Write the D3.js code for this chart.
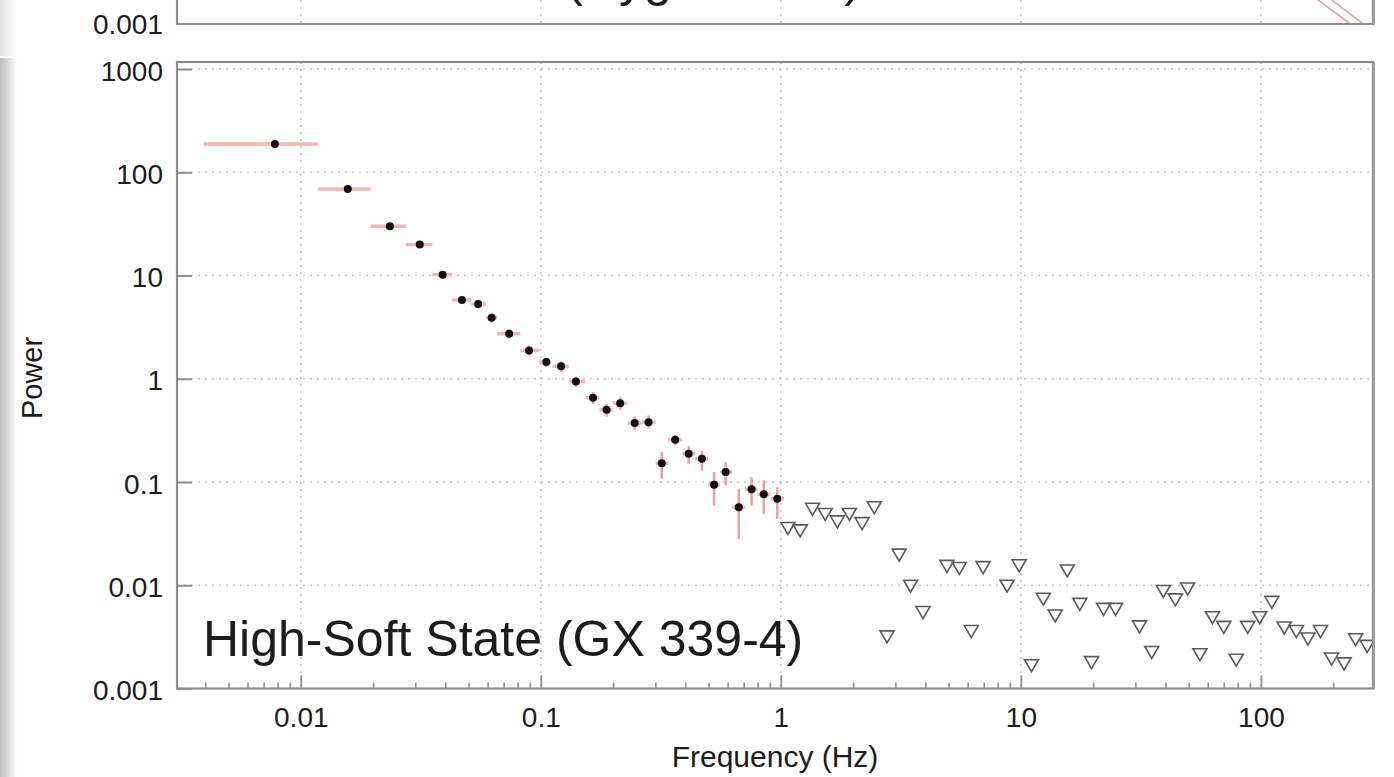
<!DOCTYPE html>
<html>
<head>
<meta charset="utf-8">
<script src="https://cdn.jsdelivr.net/npm/d3@7"></script>
<style>
body { margin: 0; background: #fff; }
svg text { font-family: "Liberation Sans", Arial, Helvetica, sans-serif; fill: #1c1c1c; }
</style>
</head>
<body>
<div class="chart"></div>
<script>
// detected points (bin centre, power) with bin edges and 1-sigma range
var freq = [0.0078, 0.0157, 0.0235, 0.0313, 0.039, 0.0469, 0.0548, 0.0624, 0.0738, 0.0893,
  0.1054, 0.1215, 0.140, 0.165, 0.188, 0.214, 0.246, 0.281, 0.319, 0.363,
  0.413, 0.469, 0.527, 0.589, 0.668, 0.755, 0.849, 0.966];
var power = [188, 69, 30, 20, 10.2, 5.8, 5.3, 3.9, 2.73, 1.88,
  1.45, 1.32, 0.94, 0.655, 0.50, 0.58, 0.372, 0.38, 0.152, 0.257,
  0.188, 0.168, 0.094, 0.125, 0.057, 0.085, 0.076, 0.069];
var freqLo = [0.00394, 0.01178, 0.01954, 0.02736, 0.0353, 0.0427, 0.0513, 0.0592, 0.0658, 0.0821,
  0.0986, 0.112, 0.131, 0.1535, 0.1755, 0.199, 0.2297, 0.263, 0.301, 0.34,
  0.388, 0.44, 0.498, 0.558, 0.628, 0.71, 0.80, 0.905];
var freqHi = [0.01178, 0.01954, 0.02736, 0.0353, 0.0427, 0.0513, 0.0592, 0.0658, 0.0821, 0.0986,
  0.1106, 0.131, 0.1535, 0.1755, 0.199, 0.2297, 0.263, 0.301, 0.34, 0.388,
  0.44, 0.498, 0.558, 0.628, 0.71, 0.80, 0.905, 1.03];
var powerLo = [178, 65, 28, 18.5, 9.4, 5.3, 4.8, 3.5, 2.45, 1.68,
  1.3, 1.17, 0.83, 0.57, 0.43, 0.5, 0.32, 0.33, 0.108, 0.227,
  0.15, 0.129, 0.059, 0.093, 0.028, 0.059, 0.049, 0.044];
var powerHi = [198, 73, 32, 21.5, 11, 6.3, 5.8, 4.3, 3.0, 2.1,
  1.6, 1.47, 1.05, 0.74, 0.57, 0.66, 0.43, 0.44, 0.195, 0.287,
  0.223, 0.2, 0.125, 0.156, 0.086, 0.112, 0.104, 0.089];

// upper limits (open triangles)
var limFreq = [1.07, 1.204, 1.355, 1.53, 1.72, 1.93, 2.18, 2.45, 2.77, 3.11,
  3.47, 3.91, 4.92, 5.54, 6.21, 6.96, 8.76, 9.83, 11.07, 12.4,
  13.9, 15.6, 17.6, 19.7, 22.1, 24.8, 31.2, 35.1, 39.2, 44,
  49.5, 55.7, 62.8, 70, 78.9, 88.1, 98.8, 111, 125, 140.5,
  157, 177, 197, 222, 248, 277];
var limPower = [0.0359, 0.034, 0.055, 0.049, 0.0416, 0.049, 0.040, 0.057, 0.0032, 0.0198,
  0.0099, 0.0055, 0.0154, 0.0147, 0.0036, 0.015, 0.0099, 0.0156, 0.00168, 0.0074,
  0.0051, 0.0139, 0.0066, 0.0018, 0.0059, 0.0059, 0.0040, 0.00226, 0.0088, 0.0073,
  0.0093, 0.00215, 0.0049, 0.00395, 0.0019, 0.00395, 0.0049, 0.0069, 0.0039, 0.0036,
  0.00305, 0.0036, 0.00195, 0.00175, 0.0030, 0.00259];

// model lines peeking out of the upper panel
var topLineA = [[150, 0.00219], [235.5, 0.001]];
var topLineB = [[170, 0.00223], [266.6, 0.001]];

var xTickValues = [0.01, 0.1, 1, 10, 100];
var xTickLabels = ["0.01", "0.1", "1", "10", "100"];
var yTickValues = [0.001, 0.01, 0.1, 1, 10, 100, 1000];
var yTickLabels = ["0.001", "0.01", "0.1", "1", "10", "100", "1000"];

var width = 1394, height = 777;
var plotLeft = 177, plotRight = 1373, plotTop = 62, plotBottom = 688.5;
var topPanelBottom = 24;

var x = d3.scaleLog().domain([0.00305, 293]).range([plotLeft, plotRight]);
var y = d3.scaleLog().domain([0.001, 1170]).range([plotBottom, plotTop]);
var yTop = d3.scaleLog().domain([0.001, 1170]).range([topPanelBottom, topPanelBottom - (plotBottom - plotTop)]);

var svg = d3.select(".chart").append("svg")
    .attr("width", width)
    .attr("height", height);

var defs = svg.append("defs");
var grad = defs.append("linearGradient").attr("id", "edge").attr("x1", 0).attr("x2", 1);
grad.append("stop").attr("offset", 0).attr("stop-color", "#bcbcbc");
grad.append("stop").attr("offset", 1).attr("stop-color", "#ffffff");
var grad2 = defs.append("linearGradient").attr("id", "edge2").attr("x1", 0).attr("x2", 1);
grad2.append("stop").attr("offset", 0).attr("stop-color", "#e2e2e2");
grad2.append("stop").attr("offset", 1).attr("stop-color", "#ffffff");
defs.append("clipPath").attr("id", "clipMain").append("rect")
    .attr("x", plotLeft).attr("y", plotTop).attr("width", plotRight - plotLeft).attr("height", plotBottom - plotTop);
defs.append("clipPath").attr("id", "clipTop").append("rect")
    .attr("x", plotLeft).attr("y", -50).attr("width", plotRight - plotLeft).attr("height", topPanelBottom + 50);

// screenshot edge shading on the left
svg.append("rect").attr("x", 0).attr("y", 0).attr("width", 17).attr("height", 56).attr("fill", "url(#edge2)");
svg.append("rect").attr("x", 0).attr("y", 58).attr("width", 17).attr("height", height - 58).attr("fill", "url(#edge)");

var gridColor = "#c4c4c4";
var frameColor = "#8e8e8e";

// ---------- upper panel (only its bottom strip is visible) ----------
var gTop = svg.append("g");
gTop.selectAll(".vgridTop")
  .data(xTickValues)
  .enter().append("line")
    .attr("x1", function(d) { return x(d); })
    .attr("x2", function(d) { return x(d); })
    .attr("y1", 0).attr("y2", topPanelBottom)
    .attr("stroke", gridColor).attr("stroke-width", 1.5).attr("stroke-dasharray", "2,5");

gTop.append("text")
    .attr("x", 205).attr("y", -4)
    .style("font-size", "50px")
    .text("Low-Hard State (Cygnus X-1)");

var lineTop = d3.line()
    .x(function(d) { return x(d[0]); })
    .y(function(d) { return yTop(d[1]); });
gTop.append("g").attr("clip-path", "url(#clipTop)")
  .selectAll("path")
  .data([topLineA, topLineB])
  .enter().append("path")
    .attr("d", lineTop)
    .attr("fill", "none")
    .attr("stroke", "#f2a0a0")
    .attr("stroke-width", 1.6);

gTop.append("path")
    .attr("d", "M" + plotLeft + ",-5V" + topPanelBottom + "H" + plotRight + "V-5")
    .attr("fill", "none").attr("stroke", frameColor).attr("stroke-width", 2.2);
gTop.append("line")
    .attr("x1", plotRight + 1).attr("x2", plotRight + 1).attr("y1", -5).attr("y2", topPanelBottom + 1)
    .attr("stroke", "#a0a0a0").attr("stroke-width", 2);

gTop.append("text")
    .attr("x", plotLeft - 14).attr("y", topPanelBottom).attr("dy", "0.36em")
    .attr("text-anchor", "end")
    .style("font-size", "28px")
    .text("0.001");

// ---------- main panel ----------
var g = svg.append("g");

g.selectAll(".hgrid")
  .data(yTickValues.slice(1))
  .enter().append("line")
    .attr("x1", plotLeft).attr("x2", plotRight)
    .attr("y1", function(d) { return y(d); })
    .attr("y2", function(d) { return y(d); })
    .attr("stroke", gridColor).attr("stroke-width", 1.5).attr("stroke-dasharray", "2,5");

g.selectAll(".vgrid")
  .data(xTickValues)
  .enter().append("line")
    .attr("x1", function(d) { return x(d); })
    .attr("x2", function(d) { return x(d); })
    .attr("y1", plotTop).attr("y2", plotBottom)
    .attr("stroke", gridColor).attr("stroke-width", 1.5).attr("stroke-dasharray", "2,5");

g.append("text")
    .attr("x", 203).attr("y", 656)
    .style("font-size", "50px")
    .text("High-Soft State (GX 339-4)");

var plot = g.append("g").attr("clip-path", "url(#clipMain)");

var pts = freq.map(function(f, i) {
  return { f: f, p: power[i], fLo: freqLo[i], fHi: freqHi[i], pLo: powerLo[i], pHi: powerHi[i] };
});

plot.selectAll(".xerr")
  .data(pts)
  .enter().append("line")
    .attr("x1", function(d) { return x(d.fLo); })
    .attr("x2", function(d) { return x(d.fHi); })
    .attr("y1", function(d) { return y(d.p); })
    .attr("y2", function(d) { return y(d.p); })
    .attr("stroke", "#f9b3b3").attr("stroke-width", 3.5);

plot.selectAll(".yerr")
  .data(pts)
  .enter().append("line")
    .attr("x1", function(d) { return x(d.f); })
    .attr("x2", function(d) { return x(d.f); })
    .attr("y1", function(d) { return y(d.pLo); })
    .attr("y2", function(d) { return y(d.pHi); })
    .attr("stroke", "#f59c9c").attr("stroke-width", 2.5);

plot.selectAll(".dot")
  .data(pts)
  .enter().append("circle")
    .attr("cx", function(d) { return x(d.f); })
    .attr("cy", function(d) { return y(d.p); })
    .attr("r", 4)
    .attr("fill", "#111");

var lims = limFreq.map(function(f, i) { return { f: f, p: limPower[i] }; });
plot.selectAll(".lim")
  .data(lims)
  .enter().append("path")
    .attr("transform", function(d) { return "translate(" + x(d.f) + "," + y(d.p) + ")"; })
    .attr("d", "M-7,-5.5L7,-5.5L0,6.5Z")
    .attr("fill", "none")
    .attr("stroke", "#5a5a5a")
    .attr("stroke-width", 1.6)
    .attr("stroke-linejoin", "miter");

// axes: ticks point inward
var minorTicks = x.ticks().filter(function(d) { return xTickValues.indexOf(d) < 0; });

g.append("g")
    .attr("transform", "translate(0," + plotBottom + ")")
    .call(d3.axisBottom(x).tickValues(minorTicks).tickSizeInner(-6).tickSizeOuter(0).tickFormat(""))
    .call(function(a) { a.select(".domain").remove(); a.selectAll("line").attr("stroke", frameColor).attr("stroke-width", 1.6); });

g.append("g")
    .attr("transform", "translate(0," + plotBottom + ")")
    .call(d3.axisBottom(x).tickValues(xTickValues).tickSizeInner(-13).tickSizeOuter(0).tickPadding(19)
      .tickFormat(function(d, i) { return xTickLabels[i]; }))
    .call(function(a) {
      a.select(".domain").remove();
      a.selectAll("line").attr("stroke", frameColor).attr("stroke-width", 1.8);
      a.selectAll("text").style("font-size", "28px").attr("fill", "#1c1c1c").attr("font-family", null);
    });

g.append("g")
    .attr("transform", "translate(" + plotLeft + ",0)")
    .call(d3.axisLeft(y).tickValues(yTickValues).tickSizeInner(-15).tickSizeOuter(0).tickPadding(14)
      .tickFormat(function(d, i) { return yTickLabels[i]; }))
    .call(function(a) {
      a.select(".domain").remove();
      a.selectAll("line").attr("stroke", frameColor).attr("stroke-width", 2);
      a.selectAll("text").style("font-size", "28px").attr("fill", "#1c1c1c").attr("dy", "0.4em").attr("font-family", null);
    });

// frame
g.append("rect")
    .attr("x", plotLeft).attr("y", plotTop)
    .attr("width", plotRight - plotLeft).attr("height", plotBottom - plotTop)
    .attr("fill", "none").attr("stroke", frameColor).attr("stroke-width", 2.2);
g.append("line")
    .attr("x1", plotRight + 1).attr("x2", plotRight + 1).attr("y1", plotTop).attr("y2", plotBottom + 1)
    .attr("stroke", "#a0a0a0").attr("stroke-width", 2);

// axis titles
svg.append("text")
    .attr("x", 775).attr("y", 767)
    .attr("text-anchor", "middle")
    .style("font-size", "30px")
    .text("Frequency (Hz)");

svg.append("text")
    .attr("transform", "translate(42,378) rotate(-90)")
    .attr("text-anchor", "middle")
    .style("font-size", "29px")
    .text("Power");
</script>
</body>
</html>
